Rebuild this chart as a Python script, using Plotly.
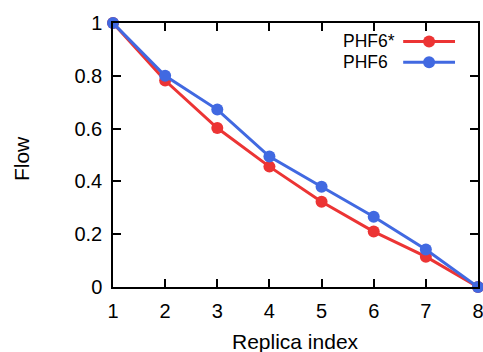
import plotly.graph_objects as go

replica = [1, 2, 3, 4, 5, 6, 7, 8]
phf6_star = [1.0, 0.782, 0.602, 0.456, 0.323, 0.210, 0.115, 0.0]
phf6 = [1.0, 0.800, 0.672, 0.494, 0.380, 0.266, 0.142, 0.0]
series_names = ["PHF6*", "PHF6"]
series_colors = ["rgb(236,52,52)", "rgb(65,105,225)"]
x_ticks = [1, 2, 3, 4, 5, 6, 7, 8]
y_ticks = [0, 0.2, 0.4, 0.6, 0.8, 1]
y_tick_labels = ["0", "0.2", "0.4", "0.6", "0.8", "1"]

FONT = "Liberation Sans, Arial, Helvetica, sans-serif"

fig = go.Figure()
for name, vals, col in zip(series_names, [phf6_star, phf6], series_colors):
    fig.add_trace(go.Scatter(
        x=replica, y=vals, mode="lines+markers", name=name,
        line=dict(color=col, width=3),
        marker=dict(color=col, size=12, opacity=1),
        cliponaxis=False, showlegend=False,
    ))

# manual legend (symbol on the right, like gnuplot)
leg_y = [0.930, 0.851]
for name, col, yy in zip(series_names, series_colors, leg_y):
    fig.add_trace(go.Scatter(
        x=[0.795, 0.937], y=[yy, yy], xaxis="x2", yaxis="y2",
        mode="lines", line=dict(color=col, width=3),
        showlegend=False, hoverinfo="skip", cliponaxis=False,
    ))
    fig.add_trace(go.Scatter(
        x=[0.866], y=[yy], xaxis="x2", yaxis="y2",
        mode="markers", marker=dict(color=col, size=12, opacity=1),
        showlegend=False, hoverinfo="skip", cliponaxis=False,
    ))
    fig.add_annotation(x=0.627, y=yy, xref="paper", yref="paper",
                       text=name, showarrow=False, xanchor="left",
                       yanchor="middle", borderpad=0,
                       font=dict(size=17.5, color="black", family=FONT))

fig.add_annotation(x=0.5, y=-0.205, xref="paper", yref="paper",
                   text="Replica index", showarrow=False, xanchor="center",
                   yanchor="middle", font=dict(size=21, color="black", family=FONT))
fig.add_annotation(x=-0.249, y=0.485, xref="paper", yref="paper",
                   text="Flow", showarrow=False, xanchor="center", textangle=-90,
                   yanchor="middle", font=dict(size=21, color="black", family=FONT))

axis_common = dict(
    showline=True, linecolor="black", linewidth=1.5, mirror="ticks",
    ticks="inside", ticklen=8, tickwidth=1.5, tickcolor="black",
    showgrid=False, zeroline=False, automargin=False,
    ticklabeloverflow="allow",
    tickfont=dict(size=20, color="black", family=FONT),
)

fig.update_layout(
    width=483, height=352,
    margin=dict(l=113, r=5, t=23, b=65, autoexpand=False),
    paper_bgcolor="white", plot_bgcolor="white",
    font=dict(family=FONT, color="black"),
    xaxis=dict(range=[1, 8], tickvals=x_ticks, ticklabelstandoff=5, **axis_common),
    yaxis=dict(range=[0, 1], tickvals=y_ticks, ticktext=y_tick_labels,
               ticklabelstandoff=5, **axis_common),
    xaxis2=dict(range=[0, 1], overlaying="x", visible=False),
    yaxis2=dict(range=[0, 1], overlaying="y", visible=False),
    showlegend=False,
)

fig.write_html("out.html")
